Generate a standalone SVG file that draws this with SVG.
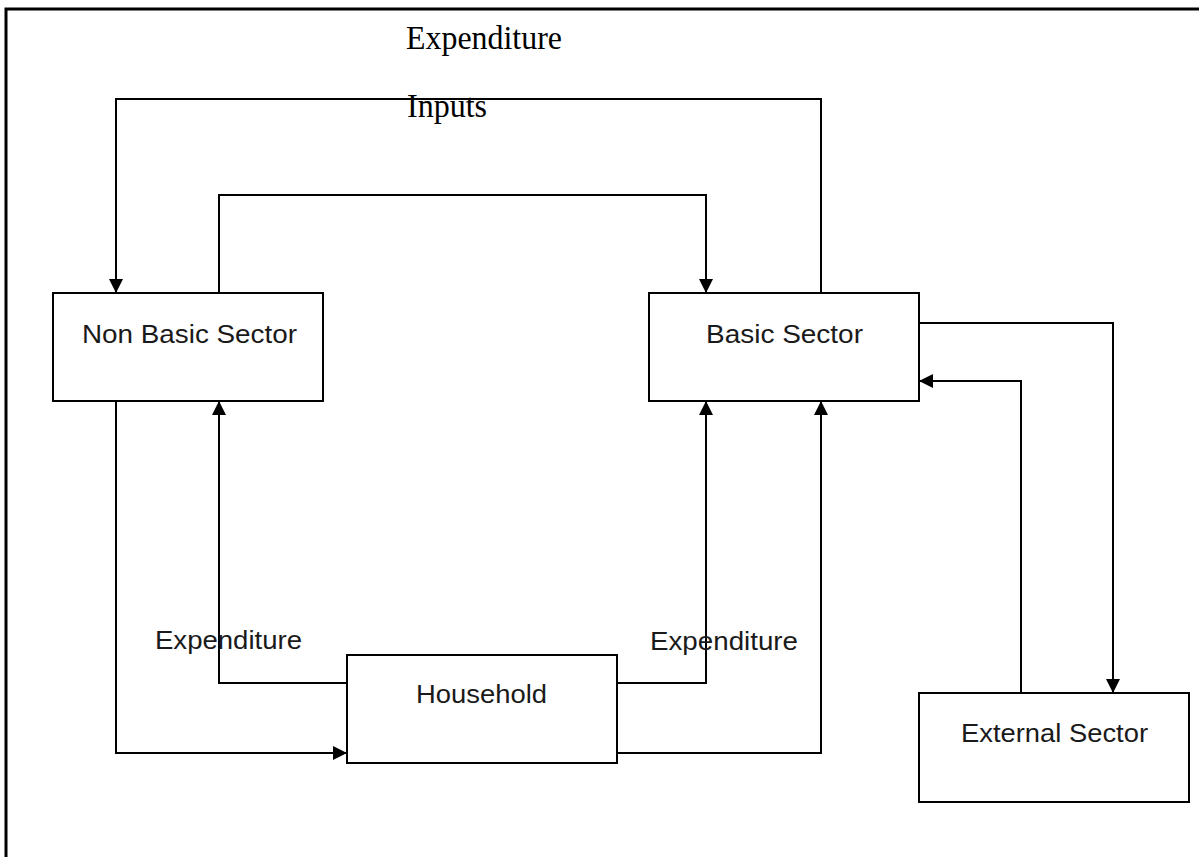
<svg xmlns="http://www.w3.org/2000/svg" width="1199" height="857" viewBox="0 0 1199 857">
<defs>
<marker id="ah" markerUnits="userSpaceOnUse" markerWidth="16" markerHeight="16" refX="14" refY="7" orient="auto">
<path d="M0,0 L14,7 L0,14 z" fill="#000"/>
</marker>
<style>
.box{fill:#fff;stroke:#000;stroke-width:2}
.ln{fill:none;stroke:#000;stroke-width:2}
.arr{fill:none;stroke:#000;stroke-width:2;marker-end:url(#ah)}
.sans{font-family:"Liberation Sans",Arial,sans-serif;font-size:26px;fill:#1a1a1a}
.serif{font-family:"Liberation Serif","Times New Roman",serif;font-size:33px;fill:#000}
</style>
</defs>
<rect width="1199" height="857" fill="#fff"/>
<path d="M6,857 L6,9 L1199,9" fill="none" stroke="#000" stroke-width="3"/>
<g id="connectors">
<path class="arr" d="M821,293 L821,99 L116,99 L116,293"/>
<path class="arr" d="M219,293 L219,195 L706,195 L706,293"/>
<path class="arr" d="M919,323 L1113,323 L1113,693"/>
<path class="arr" d="M1021,693 L1021,381 L919,381"/>
<path class="arr" d="M116,401 L116,753 L347,753"/>
<path class="arr" d="M347,683 L219,683 L219,401"/>
<path class="arr" d="M617,683 L706,683 L706,401"/>
<path class="arr" d="M617,753 L821,753 L821,401"/>
</g>
<g id="labels">
<text class="serif" x="406" y="49" textLength="156" lengthAdjust="spacingAndGlyphs">Expenditure</text>
<text class="serif" x="407" y="117" textLength="80" lengthAdjust="spacingAndGlyphs">Inputs</text>
<text class="sans" x="155" y="649" textLength="147" lengthAdjust="spacingAndGlyphs">Expenditure</text>
<text class="sans" x="650" y="650" textLength="148" lengthAdjust="spacingAndGlyphs">Expenditure</text>
</g>
<g id="non-basic">
<rect class="box" x="53" y="293" width="270" height="108"/>
<text class="sans" x="82" y="343" textLength="215" lengthAdjust="spacingAndGlyphs">Non Basic Sector</text>
</g>
<g id="basic">
<rect class="box" x="649" y="293" width="270" height="108"/>
<text class="sans" x="706" y="343" textLength="157" lengthAdjust="spacingAndGlyphs">Basic Sector</text>
</g>
<g id="household">
<rect class="box" x="347" y="655" width="270" height="108"/>
<text class="sans" x="416" y="703" textLength="131" lengthAdjust="spacingAndGlyphs">Household</text>
</g>
<g id="external">
<rect class="box" x="919" y="693" width="270" height="109"/>
<text class="sans" x="961" y="742" textLength="187" lengthAdjust="spacingAndGlyphs">External Sector</text>
</g>
</svg>
